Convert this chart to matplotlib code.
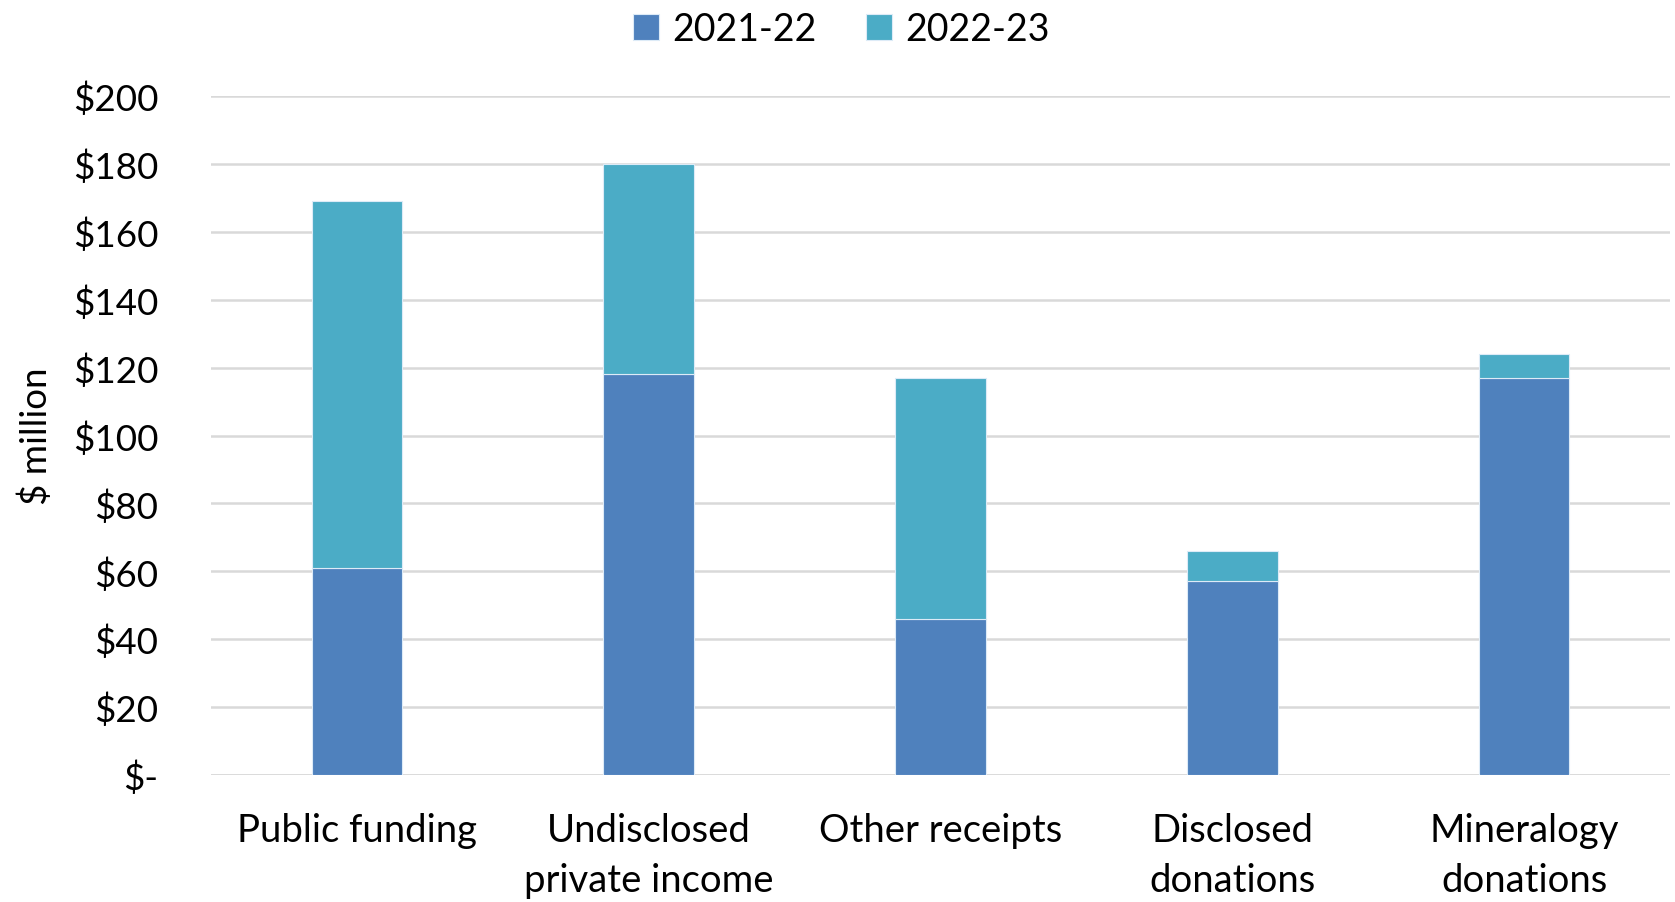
import matplotlib.pyplot as plt
import numpy as np

plt.rcParams['font.family'] = ['Lato', 'DejaVu Sans']

kategorier = ["Public funding", "Undisclosed\nprivate income", "Other receipts",
              "Disclosed\ndonations", "Mineralogy\ndonations"]
verdier_2122 = [61, 118, 46, 57, 117]
verdier_2223 = [108, 62, 71, 9, 7]
yticks = [0, 20, 40, 60, 80, 100, 120, 140, 160, 180, 200]
ytick_labels = ["$-", "$20", "$40", "$60", "$80", "$100", "$120", "$140", "$160", "$180", "$200"]

fig = plt.figure(figsize=(16.75, 9.03), dpi=100)
ax = fig.add_axes([211 / 1675, 1 - 776 / 903, (1670 - 211) / 1675, (776 - 97) / 903])

x = np.arange(len(kategorier))
ax.bar(x, verdier_2122, width=0.31, color="#4F81BD", edgecolor="#DDEBF7", linewidth=0.8,
       label="2021-22", zorder=3)
ax.bar(x, verdier_2223, width=0.31, bottom=verdier_2122, color="#4BACC6", edgecolor="#DDEBF7",
       linewidth=0.8, label="2022-23", zorder=3)

ax.set_xlim(-0.5, 4.5)
ax.set_ylim(0, 200)
ax.set_yticks(yticks)
ax.set_yticklabels(ytick_labels)
ax.set_xticks(x)
ax.set_xticklabels(kategorier, linespacing=1.45)
ax.tick_params(axis="y", length=0, pad=38, labelsize=26.5)
ax.tick_params(axis="x", length=0, pad=27, labelsize=27.5)
ax.grid(axis="y", color="#D9D9D9", linewidth=1.8, zorder=0)
for s in ax.spines.values():
    s.set_visible(False)
ax.axhline(0, color="#D9D9D9", linewidth=1.8, zorder=1)

ax.set_ylabel("$ million", fontsize=26.5)
ax.yaxis.set_label_coords(-0.108, 0.5)

ax.legend(loc="upper center", bbox_to_anchor=(0.432, 1.175), ncol=2, frameon=False,
          fontsize=27, handlelength=0.7, handleheight=0.7, handletextpad=0.35, columnspacing=1.3)

plt.savefig("out.png")
